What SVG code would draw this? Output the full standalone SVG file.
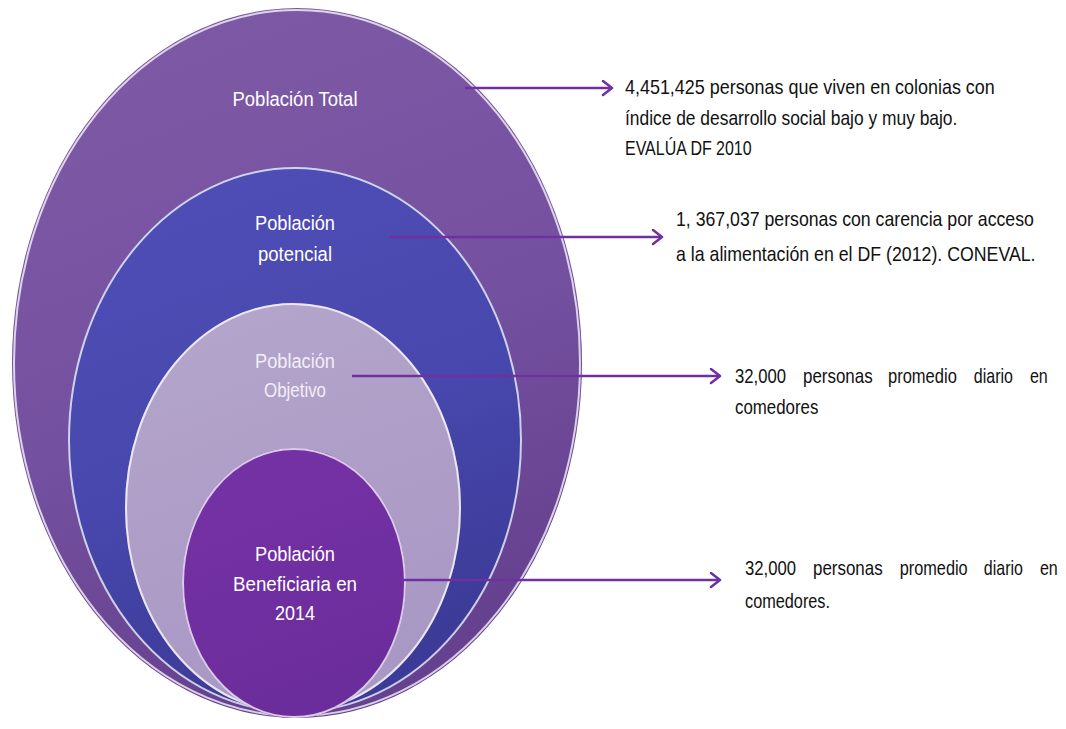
<svg xmlns="http://www.w3.org/2000/svg" width="1066" height="729" viewBox="0 0 1066 729">
<defs>
<style>
.lbl{font-family:"Liberation Sans Narrow","Liberation Sans",Arial,sans-serif;font-size:20px;fill:#ffffff;text-anchor:middle}
.lbl2{font-family:"Liberation Sans Narrow","Liberation Sans",Arial,sans-serif;font-size:20px;fill:#f2eef8;text-anchor:middle}
.txt{font-family:"Liberation Sans Narrow","Liberation Sans",Arial,sans-serif;font-size:20px;fill:#111111}
.conn{stroke:#7030A0;stroke-width:2.5;fill:none;marker-end:url(#arr)}
.rim{fill:none;stroke:#ffffff;stroke-opacity:0.75;stroke-width:2}
</style>
<marker id="arr" markerUnits="userSpaceOnUse" markerWidth="16" markerHeight="18" refX="11" refY="8" orient="auto">
<path d="M2,1 L11,8 L2,15" fill="none" stroke="#7030A0" stroke-width="2.5" stroke-linecap="round" stroke-linejoin="round"/>
</marker>
<linearGradient id="gOuter" x1="0" y1="0" x2="0.3" y2="1">
<stop offset="0" stop-color="#7F5BA6"/>
<stop offset="0.6" stop-color="#7450A0"/>
<stop offset="1" stop-color="#65418F"/>
</linearGradient>
<linearGradient id="gPot" x1="0" y1="0" x2="0.3" y2="1">
<stop offset="0" stop-color="#4F4FB8"/>
<stop offset="0.6" stop-color="#4747AD"/>
<stop offset="1" stop-color="#3C3B98"/>
</linearGradient>
<linearGradient id="gObj" x1="0" y1="0" x2="0.3" y2="1">
<stop offset="0" stop-color="#B5A6CC"/>
<stop offset="1" stop-color="#A898C4"/>
</linearGradient>
<linearGradient id="gBen" x1="0" y1="0" x2="0.3" y2="1">
<stop offset="0" stop-color="#7632A6"/>
<stop offset="1" stop-color="#6C2D9C"/>
</linearGradient>
</defs>
<rect width="1066" height="729" fill="#ffffff"/>

<g id="node-total">
<ellipse cx="297" cy="363" rx="285" ry="355" fill="url(#gOuter)"/>
<ellipse cx="297" cy="363" rx="283" ry="353" class="rim" stroke-opacity="0.55"/>
<text class="lbl" x="295" y="106" textLength="125" lengthAdjust="spacingAndGlyphs">Población Total</text>
</g>

<g id="node-potencial">
<ellipse cx="295" cy="440" rx="227" ry="273" fill="url(#gPot)"/>
<ellipse cx="295" cy="440" rx="226" ry="272" class="rim"/>
<text class="lbl" x="295" y="230" textLength="80" lengthAdjust="spacingAndGlyphs">Población</text>
<text class="lbl" x="295" y="261" textLength="74" lengthAdjust="spacingAndGlyphs">potencial</text>
</g>

<g id="node-objetivo">
<ellipse cx="293" cy="508" rx="168" ry="205" fill="url(#gObj)"/>
<ellipse cx="293" cy="508" rx="167" ry="204" class="rim"/>
<text class="lbl2" x="295" y="368" textLength="80" lengthAdjust="spacingAndGlyphs">Población</text>
<text class="lbl2" x="295" y="397" textLength="62" lengthAdjust="spacingAndGlyphs">Objetivo</text>
</g>

<g id="node-beneficiaria">
<ellipse cx="294" cy="583" rx="112" ry="135" fill="url(#gBen)"/>
<ellipse cx="294" cy="583" rx="111" ry="134" class="rim" stroke-opacity="0.6"/>
<text class="lbl" x="295" y="561" textLength="80" lengthAdjust="spacingAndGlyphs">Población</text>
<text class="lbl" x="295" y="591" textLength="124" lengthAdjust="spacingAndGlyphs">Beneficiaria en</text>
<text class="lbl" x="295" y="620" textLength="40" lengthAdjust="spacingAndGlyphs">2014</text>
</g>

<g id="connectors">
<line class="conn" x1="465" y1="88" x2="612" y2="88"/>
<line class="conn" x1="390" y1="237" x2="662" y2="237"/>
<line class="conn" x1="352" y1="376" x2="720" y2="376"/>
<line class="conn" x1="400" y1="580" x2="720" y2="580"/>
</g>

<g id="text-total" transform="translate(625,0) scale(0.85,1)">
<text class="txt" x="0" y="94" textLength="435" lengthAdjust="spacingAndGlyphs">4,451,425 personas que viven en colonias con</text>
<text class="txt" x="0" y="125" textLength="391" lengthAdjust="spacingAndGlyphs">índice de desarrollo social bajo y muy bajo.</text>
<text class="txt" x="0" y="155" textLength="149" lengthAdjust="spacingAndGlyphs">EVALÚA DF 2010</text>
</g>

<g id="text-potencial" transform="translate(676,0) scale(0.85,1)">
<text class="txt" x="0" y="226" textLength="421" lengthAdjust="spacingAndGlyphs">1, 367,037 personas con carencia por acceso</text>
<text class="txt" x="0" y="261" textLength="423" lengthAdjust="spacingAndGlyphs">a la alimentación en el DF (2012). CONEVAL.</text>
</g>

<g id="text-objetivo" transform="translate(735,0) scale(0.85,1)">
<text class="txt" y="383"><tspan x="0" textLength="60" lengthAdjust="spacingAndGlyphs">32,000</tspan> <tspan x="80" textLength="82" lengthAdjust="spacingAndGlyphs">personas</tspan> <tspan x="180" textLength="81" lengthAdjust="spacingAndGlyphs">promedio</tspan> <tspan x="281" textLength="46" lengthAdjust="spacingAndGlyphs">diario</tspan> <tspan x="347" textLength="21" lengthAdjust="spacingAndGlyphs">en</tspan></text>
<text class="txt" x="0" y="414" textLength="98" lengthAdjust="spacingAndGlyphs">comedores</text>
</g>

<g id="text-beneficiaria" transform="translate(745,0) scale(0.85,1)">
<text class="txt" y="575"><tspan x="0" textLength="60" lengthAdjust="spacingAndGlyphs">32,000</tspan> <tspan x="80" textLength="82" lengthAdjust="spacingAndGlyphs">personas</tspan> <tspan x="182" textLength="80" lengthAdjust="spacingAndGlyphs">promedio</tspan> <tspan x="281" textLength="46" lengthAdjust="spacingAndGlyphs">diario</tspan> <tspan x="347" textLength="21" lengthAdjust="spacingAndGlyphs">en</tspan></text>
<text class="txt" x="0" y="608" textLength="100" lengthAdjust="spacingAndGlyphs">comedores.</text>
</g>
</svg>
